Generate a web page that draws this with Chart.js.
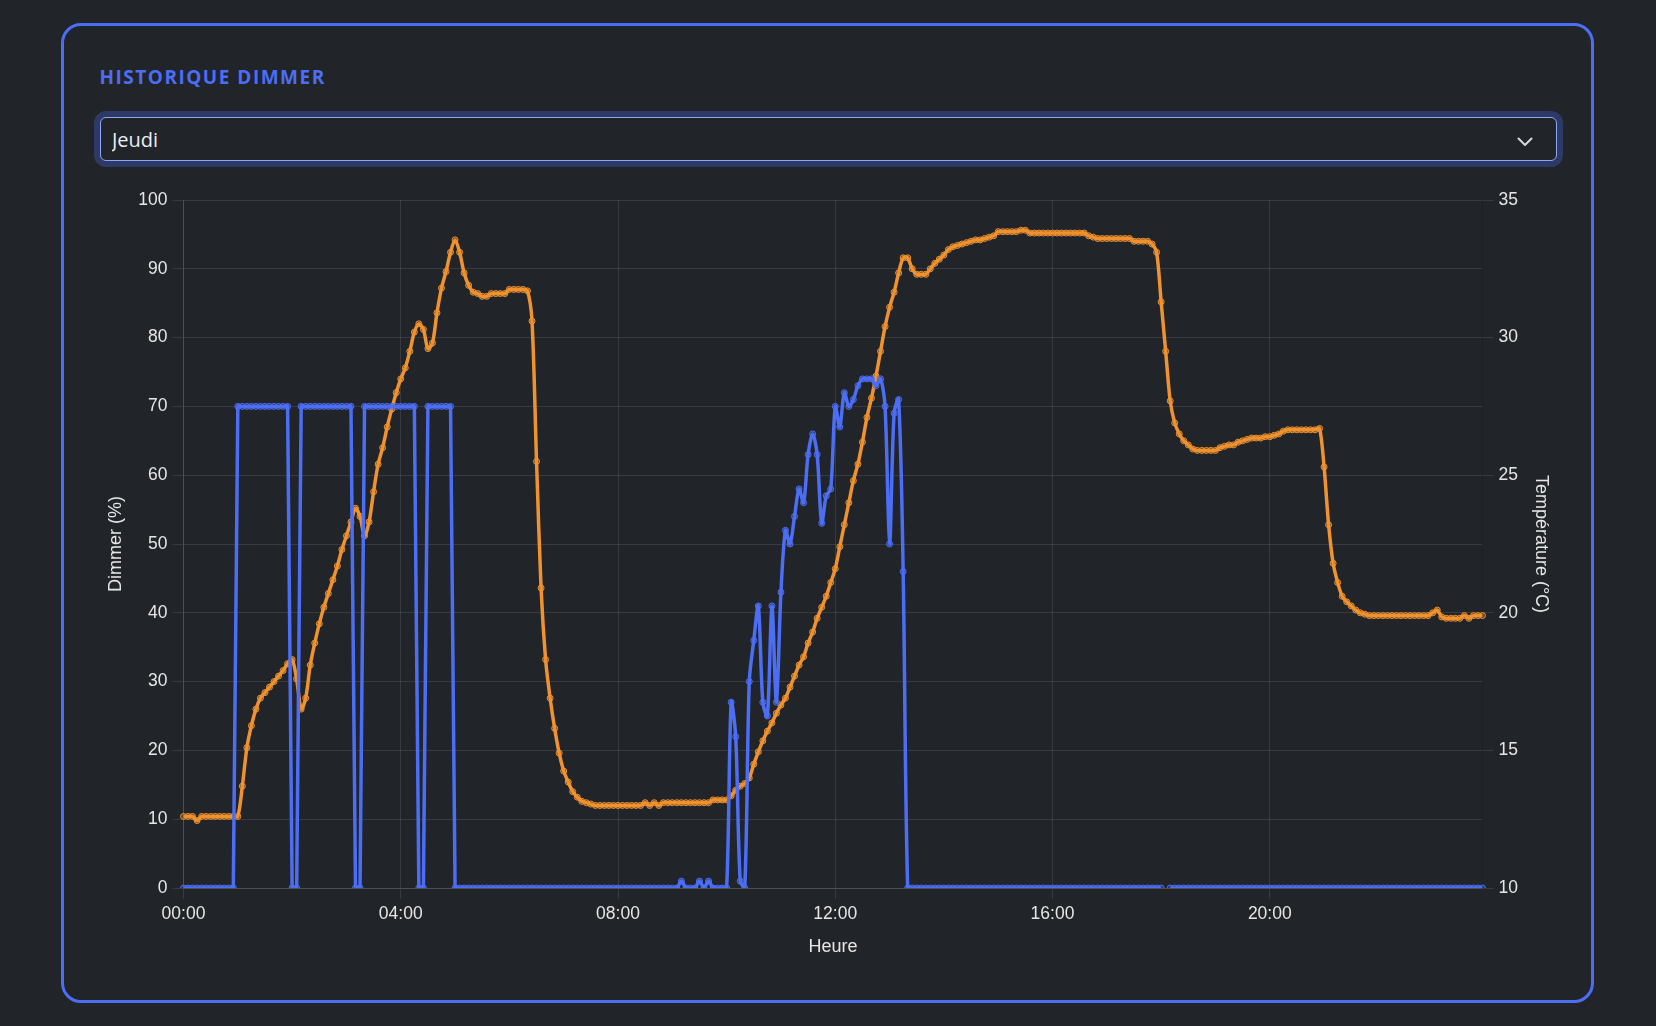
<!DOCTYPE html>
<html lang="fr">
<head>
  <meta charset="UTF-8">
  <title>Historique Dimmer</title>
  <script src="https://cdn.jsdelivr.net/npm/chart.js"></script>
  <style>
    html, body { margin: 0; background: #212429; }
    body { width: 1656px; height: 1026px; position: relative; overflow: hidden; font-family: "Open Sans", sans-serif; }
    .card {
      position: absolute; left: 61px; top: 23px; width: 1533px; height: 980px;
      box-sizing: border-box; border: 3px solid #4c6ef5; border-radius: 20px; background: #212429;
    }
    .card h2 {
      position: absolute; left: 35.5px; top: 41.5px; margin: 0;
      font-size: 19px; line-height: 19px; font-weight: 700; letter-spacing: 1.5px; color: #4c6ef5;
    }
    .card select {
      position: absolute; left: 35.5px; top: 91px; width: 1457.5px; height: 44px;
      box-sizing: border-box; -webkit-appearance: none; appearance: none;
      background: #212429; color: #eceef2; border: 1px solid #8fa5f8; border-radius: 6px;
      box-shadow: 0 0 0 6px rgba(76,110,245,0.3);
      font-family: "Open Sans", sans-serif; font-size: 20px; padding: 0 0 0 11.5px; outline: none;
    }
    .card svg.chevron { position: absolute; left: 1453px; top: 111px; }
    .chart-box { position: absolute; left: 35.5px; top: 154px; width: 1457.5px; height: 782px; }
  </style>
</head>
<body>
  <div class="card">
    <h2>HISTORIQUE DIMMER</h2>
    <select id="jour"><option>Jeudi</option></select>
    <svg class="chevron" width="16" height="10" viewBox="0 0 16 10">
      <polyline points="1.5,1.5 8,8 14.5,1.5" fill="none" stroke="#d6d8de" stroke-width="2" stroke-linecap="round" stroke-linejoin="round"/>
    </svg>
    <div class="chart-box"><canvas id="dimmerChart"></canvas></div>
  </div>

  <script>
  // Heures (pas de 5 minutes)
  const heures = [
    '00:00','00:05','00:10','00:15','00:20','00:25','00:30','00:35','00:40','00:45','00:50','00:55',
    '01:00','01:05','01:10','01:15','01:20','01:25','01:30','01:35','01:40','01:45','01:50','01:55',
    '02:00','02:05','02:10','02:15','02:20','02:25','02:30','02:35','02:40','02:45','02:50','02:55',
    '03:00','03:05','03:10','03:15','03:20','03:25','03:30','03:35','03:40','03:45','03:50','03:55',
    '04:00','04:05','04:10','04:15','04:20','04:25','04:30','04:35','04:40','04:45','04:50','04:55',
    '05:00','05:05','05:10','05:15','05:20','05:25','05:30','05:35','05:40','05:45','05:50','05:55',
    '06:00','06:05','06:10','06:15','06:20','06:25','06:30','06:35','06:40','06:45','06:50','06:55',
    '07:00','07:05','07:10','07:15','07:20','07:25','07:30','07:35','07:40','07:45','07:50','07:55',
    '08:00','08:05','08:10','08:15','08:20','08:25','08:30','08:35','08:40','08:45','08:50','08:55',
    '09:00','09:05','09:10','09:15','09:20','09:25','09:30','09:35','09:40','09:45','09:50','09:55',
    '10:00','10:05','10:10','10:15','10:20','10:25','10:30','10:35','10:40','10:45','10:50','10:55',
    '11:00','11:05','11:10','11:15','11:20','11:25','11:30','11:35','11:40','11:45','11:50','11:55',
    '12:00','12:05','12:10','12:15','12:20','12:25','12:30','12:35','12:40','12:45','12:50','12:55',
    '13:00','13:05','13:10','13:15','13:20','13:25','13:30','13:35','13:40','13:45','13:50','13:55',
    '14:00','14:05','14:10','14:15','14:20','14:25','14:30','14:35','14:40','14:45','14:50','14:55',
    '15:00','15:05','15:10','15:15','15:20','15:25','15:30','15:35','15:40','15:45','15:50','15:55',
    '16:00','16:05','16:10','16:15','16:20','16:25','16:30','16:35','16:40','16:45','16:50','16:55',
    '17:00','17:05','17:10','17:15','17:20','17:25','17:30','17:35','17:40','17:45','17:50','17:55',
    '18:00','18:05','18:10','18:15','18:20','18:25','18:30','18:35','18:40','18:45','18:50','18:55',
    '19:00','19:05','19:10','19:15','19:20','19:25','19:30','19:35','19:40','19:45','19:50','19:55',
    '20:00','20:05','20:10','20:15','20:20','20:25','20:30','20:35','20:40','20:45','20:50','20:55',
    '21:00','21:05','21:10','21:15','21:20','21:25','21:30','21:35','21:40','21:45','21:50','21:55',
    '22:00','22:05','22:10','22:15','22:20','22:25','22:30','22:35','22:40','22:45','22:50','22:55',
    '23:00','23:05','23:10','23:15','23:20','23:25','23:30','23:35','23:40','23:45','23:50','23:55'
  ];

  // Dimmer (%)
  const dimmer = [
    0,0,0,0,0,0,0,0,0,0,0,0,
    70,70,70,70,70,70,70,70,70,70,70,70,
    0,0,70,70,70,70,70,70,70,70,70,70,
    70,70,0,0,70,70,70,70,70,70,70,70,
    70,70,70,70,0,0,70,70,70,70,70,70,
    0,0,0,0,0,0,0,0,0,0,0,0,
    0,0,0,0,0,0,0,0,0,0,0,0,
    0,0,0,0,0,0,0,0,0,0,0,0,
    0,0,0,0,0,0,0,0,0,0,0,0,
    0,0,1,0,0,0,1,0,1,0,0,0,
    0,27,22,1,0,30,36,41,27,25,41,27,
    43,52,50,54,58,56,63,66,63,53,57,58,
    70,67,72,70,71,73,74,74,74,73,74,70,
    50,69,71,46,0,0,0,0,0,0,0,0,
    0,0,0,0,0,0,0,0,0,0,0,0,
    0,0,0,0,0,0,0,0,0,0,0,0,
    0,0,0,0,0,0,0,0,0,0,0,0,
    0,0,0,0,0,0,0,0,0,0,0,0,
    0,null,0,0,0,0,0,0,0,0,0,0,
    0,0,0,0,0,0,0,0,0,0,0,0,
    0,0,0,0,0,0,0,0,0,0,0,0,
    0,0,0,0,0,0,0,0,0,0,0,0,
    0,0,0,0,0,0,0,0,0,0,0,0,
    0,0,0,0,0,0,0,0,0,0,0,0
  ];

  // Température (°C)
  const temperature = [
    12.6,12.6,12.6,12.45,12.6,12.6,12.6,12.6,12.6,12.6,12.6,12.6,
    12.6,13.7,15.1,15.9,16.5,16.9,17.1,17.3,17.5,17.7,17.9,18.15,
    18.3,17.6,16.5,16.9,18.1,18.9,19.6,20.2,20.7,21.2,21.7,22.3,
    22.8,23.3,23.8,23.5,22.8,23.3,24.4,25.4,26.0,26.75,27.4,28.0,
    28.5,28.9,29.5,30.2,30.5,30.3,29.6,29.8,30.9,31.8,32.4,33.1,
    33.55,33.1,32.35,31.9,31.65,31.6,31.5,31.5,31.6,31.6,31.6,31.6,
    31.75,31.75,31.75,31.75,31.7,30.6,25.5,20.9,18.3,16.9,15.8,14.9,
    14.25,13.85,13.5,13.3,13.15,13.1,13.05,13.0,13.0,13.0,13.0,13.0,
    13.0,13.0,13.0,13.0,13.0,13.0,13.1,13.0,13.1,13.0,13.1,13.1,
    13.1,13.1,13.1,13.1,13.1,13.1,13.1,13.1,13.1,13.2,13.2,13.2,
    13.2,13.35,13.55,13.7,13.8,14.0,14.5,14.95,15.35,15.7,16.0,16.35,
    16.65,16.9,17.3,17.7,18.1,18.4,18.9,19.3,19.8,20.2,20.6,21.1,
    21.6,22.4,23.2,24.0,24.8,25.4,26.2,27.1,27.8,28.6,29.5,30.4,
    31.1,31.65,32.35,32.9,32.9,32.5,32.3,32.3,32.3,32.5,32.7,32.85,
    33.0,33.2,33.3,33.35,33.4,33.45,33.5,33.55,33.55,33.6,33.65,33.7,
    33.85,33.85,33.85,33.85,33.85,33.9,33.9,33.8,33.8,33.8,33.8,33.8,
    33.8,33.8,33.8,33.8,33.8,33.8,33.8,33.8,33.7,33.65,33.6,33.6,
    33.6,33.6,33.6,33.6,33.6,33.6,33.5,33.5,33.5,33.5,33.4,33.1,
    31.3,29.5,27.7,26.9,26.5,26.25,26.1,25.95,25.9,25.9,25.9,25.9,
    25.9,26.0,26.05,26.1,26.1,26.2,26.25,26.3,26.35,26.35,26.35,26.4,
    26.4,26.45,26.5,26.6,26.65,26.65,26.65,26.65,26.65,26.65,26.65,26.7,
    25.3,23.2,21.8,21.1,20.6,20.4,20.25,20.1,20.0,19.95,19.9,19.9,
    19.9,19.9,19.9,19.9,19.9,19.9,19.9,19.9,19.9,19.9,19.9,19.9,
    20.0,20.1,19.85,19.8,19.8,19.8,19.8,19.9,19.8,19.9,19.9,19.9
  ];

  // Graduations de l'axe X (toutes les 4 heures)
  const heuresAffichees = ['00:00','04:00','08:00','12:00','16:00','20:00'];

  const bleu = '#4c6ef5';
  const orange = '#f0922e';
  const grille = 'rgba(255,255,255,0.1)';

  Chart.defaults.font.family = "'Liberation Sans', Arial, sans-serif";
  Chart.defaults.color = '#e6e6e6';

  const tickFont = { size: 17.5 };
  const titleFont = { size: 18 };

  new Chart(document.getElementById('dimmerChart'), {
    type: 'line',
    data: {
      labels: heures,
      datasets: [
        {
          label: 'Dimmer (%)', data: dimmer, yAxisID: 'y',
          borderColor: bleu, backgroundColor: 'rgba(76,110,245,0.3)',
          borderWidth: 3.5, pointRadius: 3, pointBorderWidth: 1, tension: 0.3
        },
        {
          label: 'Température (°C)', data: temperature, yAxisID: 'y1',
          borderColor: orange, backgroundColor: 'rgba(240,146,46,0.3)',
          borderWidth: 3.5, pointRadius: 3, pointBorderWidth: 1, tension: 0.3
        }
      ]
    },
    options: {
      responsive: true,
      maintainAspectRatio: false,
      animation: false,
      layout: { padding: { top: 20 } },
      plugins: { legend: { display: false }, tooltip: { enabled: false } },
      scales: {
        x: {
          afterBuildTicks: axis => {
            axis.ticks = axis.ticks.filter(t => heuresAffichees.includes(heures[t.value]));
          },
          afterFit: axis => { axis.height = 74; },
          ticks: { font: tickFont, maxRotation: 0, minRotation: 0, autoSkip: false, padding: 5 },
          grid: { color: grille, tickLength: 11 },
          border: { color: grille },
          title: { display: true, text: 'Heure', font: titleFont, padding: { top: 0, bottom: 4 } }
        },
        y: {
          position: 'left', min: 0, max: 100,
          afterFit: axis => { axis.width = 83.5; },
          ticks: { stepSize: 10, font: tickFont, padding: 5 },
          grid: { color: grille, tickLength: 11 },
          border: { color: grille },
          title: { display: true, text: 'Dimmer (%)', font: titleFont, padding: { top: 5.5, bottom: 0 } }
        },
        y1: {
          position: 'right', min: 10, max: 35,
          afterFit: axis => { axis.width = 75; },
          ticks: { stepSize: 5, font: tickFont, padding: 5 },
          grid: { color: grille, tickLength: 11, drawOnChartArea: false },
          title: { display: true, text: 'Température (°C)', font: titleFont, padding: { top: 5.5, bottom: 0 } }
        }
      }
    }
  });
  </script>
</body>
</html>
